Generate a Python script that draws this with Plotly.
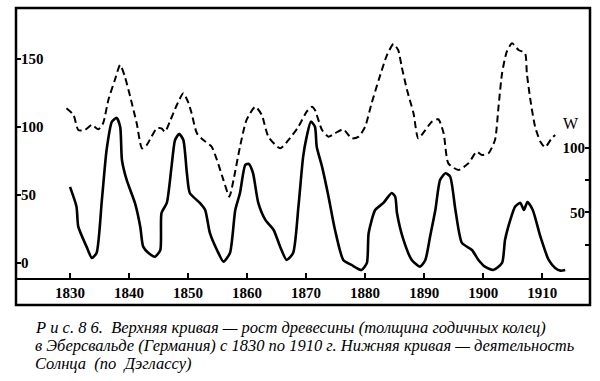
import plotly.graph_objects as go

# Upper curve: tree growth (ring thickness), left axis
growth_years = [1829.4, 1830.6, 1831.4, 1832.5, 1833.7, 1834.8, 1835.6, 1836.5, 1837.6, 1838.5,
                1839.3, 1840.2, 1841.3, 1842.2, 1843.0, 1843.8, 1844.7, 1845.5, 1846.1, 1846.9,
                1848.1, 1849.2, 1850.1, 1850.6, 1851.5, 1852.6, 1854.0, 1854.9, 1856.0, 1857.0,
                1857.7, 1858.8, 1859.9, 1861.4, 1862.5, 1863.6, 1865.6, 1867.0, 1868.7, 1870.1,
                1871.0, 1871.5, 1872.7, 1873.8, 1874.9, 1876.3, 1877.7, 1878.9, 1880.0, 1881.1,
                1882.3, 1883.7, 1884.8, 1885.6, 1886.2, 1887.1, 1888.2, 1889.0, 1890.2, 1891.3,
                1892.4, 1893.3, 1894.1, 1895.8, 1897.5, 1898.9, 1899.8, 1900.9, 1902.0, 1902.6,
                1903.2, 1904.0, 1904.9, 1906.0, 1907.1, 1907.4, 1908.0, 1908.8, 1909.7, 1910.5,
                1911.6, 1912.2]
growth_values = [113.8, 108.8, 97.8, 97.8, 101.5, 98.3, 102.7, 119.9, 134.6, 145.6,
                 137.0, 122.3, 102.7, 84.3, 86.8, 92.9, 99.0, 99.0, 96.5, 103.9,
                 116.2, 124.8, 117.4, 110.1, 95.4, 90.4, 85.5, 75.7, 61.0, 48.8,
                 61.0, 85.5, 105.1, 114.9, 108.8, 92.9, 84.3, 90.4, 100.2, 111.3,
                 114.9, 112.5, 97.8, 92.9, 95.4, 98.3, 91.7, 92.9, 100.2, 117.4,
                 134.6, 152.9, 161.0, 156.6, 144.3, 127.2, 110.1, 91.7, 97.8, 103.9,
                 105.7, 95.4, 73.3, 68.4, 73.3, 81.8, 79.4, 80.7, 90.4, 114.9,
                 139.5, 155.4, 161.5, 156.6, 154.2, 139.5, 119.9, 100.2, 89.2, 85.1,
                 91.7, 94.1]

# Lower curve: solar activity W (Wolf number), right axis
sun_years = [1830.0, 1831.1, 1831.4, 1832.8, 1833.7, 1834.5, 1835.4, 1836.2, 1837.1, 1837.9,
             1838.5, 1838.8, 1839.6, 1841.0, 1841.9, 1842.4, 1843.3, 1844.4, 1845.3, 1845.5,
             1846.4, 1847.2, 1847.8, 1848.5, 1849.2, 1849.8, 1850.3, 1852.0, 1852.9, 1853.7,
             1854.9, 1856.0, 1857.1, 1858.0, 1858.8, 1859.7, 1860.3, 1861.0, 1861.9, 1863.1,
             1864.5, 1865.6, 1866.7, 1867.8, 1868.7, 1869.5, 1870.1, 1870.8, 1871.5, 1871.8,
             1872.7, 1873.8, 1874.9, 1876.3, 1877.7, 1879.4, 1880.3, 1880.6, 1881.7, 1883.1,
             1884.5, 1885.1, 1885.4, 1886.5, 1887.9, 1889.3, 1890.2, 1891.0, 1891.9, 1892.7,
             1893.6, 1894.4, 1895.3, 1896.4, 1898.1, 1899.2, 1900.3, 1901.7, 1903.2, 1903.7,
             1904.6, 1905.4, 1906.3, 1906.9, 1907.5, 1908.4, 1909.7, 1911.1, 1912.2, 1913.1,
             1913.9]
sun_values = [69.8, 54.5, 39.0, 23.5, 14.7, 18.6, 59.7, 98.4, 120.4, 123.3,
              116.5, 90.7, 75.2, 57.4, 39.0, 23.5, 18.6, 15.7, 20.9, 49.6,
              57.4, 85.5, 106.2, 110.9, 106.2, 80.6, 65.1, 57.4, 51.9, 34.1,
              20.9, 11.9, 18.6, 51.9, 65.1, 86.8, 87.6, 80.6, 57.4, 44.2,
              36.4, 23.5, 13.2, 18.6, 54.5, 93.3, 108.8, 120.4, 116.5, 101.0,
              85.5, 62.2, 36.4, 13.2, 9.3, 5.4, 10.9, 34.1, 51.9, 57.4,
              65.1, 62.2, 49.6, 28.7, 13.2, 8.0, 13.2, 31.2, 51.9, 75.2,
              80.4, 77.8, 51.9, 26.4, 20.9, 13.2, 8.0, 5.4, 10.9, 28.7,
              44.2, 54.5, 57.4, 51.9, 58.1, 51.9, 31.2, 13.2, 7.0, 4.9,
              5.4]

x_ticks = [1830, 1840, 1850, 1860, 1870, 1880, 1890, 1900, 1910]
left_ticks = [0, 50, 100, 150]
right_ticks = [25, 50, 75, 100]
right_labels = ["", "50", "", "100"]

caption_lines = [
    "Р и с. 8 6.  Верхняя кривая — рост древесины (толщина годичных колец)",
    "в Эберсвальде (Германия) с 1830 по 1910 г. Нижняя кривая — деятельность",
    "Солнца  (по  Дэглассу)",
]

SERIF = "Liberation Serif"

fig = go.Figure()
fig.add_trace(go.Scatter(x=growth_years, y=growth_values, mode="lines",
                         line=dict(color="black", width=2, dash="7px,4px", shape="spline", smoothing=0.6),
                         yaxis="y", showlegend=False, hoverinfo="skip"))
fig.add_trace(go.Scatter(x=sun_years, y=sun_values, mode="lines",
                         line=dict(color="black", width=2.6, shape="spline", smoothing=0.6),
                         yaxis="y2", showlegend=False, hoverinfo="skip"))

W, H = 600, 381
L, R, T, B = 16, 10, 8, 103
plot_w = W - L - R
plot_h = H - T - B

def px_x(px):
    return (px - L) / plot_w

def px_y(py):
    return (H - B - py) / plot_h

tickfont = dict(family=SERIF, size=15, color="black")

fig.update_layout(
    template="none",
    width=W, height=H, autosize=False,
    margin=dict(l=L, r=R, t=T, b=B, pad=0),
    paper_bgcolor="white", plot_bgcolor="white",
    font=dict(family=SERIF, color="black"),
    xaxis=dict(range=[1820.85, 1918.1], tickvals=x_ticks,
               ticktext=["<b>%d</b>" % v for v in x_ticks],
               ticks="inside", ticklen=5,
               tickwidth=1.5, tickcolor="black", showline=True, linecolor="black", linewidth=2,
               showgrid=False, zeroline=False, tickfont=tickfont),
    yaxis=dict(range=[-11, 187.5], tickvals=left_ticks,
               ticktext=["<b>%d</b>" % v for v in left_ticks],
               ticks="inside", ticklen=5,
               tickwidth=1.5, tickcolor="black", ticklabelposition="inside",
               showline=False, showgrid=False, zeroline=False, tickfont=tickfont),
    yaxis2=dict(range=[-0.8, 208.5], overlaying="y", side="right", tickvals=right_ticks,
                ticktext=["<b>%s</b>" % t if t else "" for t in right_labels],
                ticks="inside", ticklen=5, tickwidth=1.5, tickcolor="black",
                ticklabelposition="inside", showline=False, showgrid=False, zeroline=False,
                tickfont=tickfont),
)

fig.add_shape(type="rect", xref="paper", yref="paper", x0=0, x1=1, y0=px_y(305), y1=1,
              line=dict(color="black", width=2.5))

fig.add_annotation(text="W", xref="paper", yref="paper", x=px_x(571), y=px_y(124),
                   xanchor="center", yanchor="middle", showarrow=False,
                   font=dict(family=SERIF, size=16, color="black"))

for i, line in enumerate(caption_lines):
    fig.add_annotation(text="<i>%s</i>" % line, xref="paper", yref="paper",
                       x=px_x(33), y=px_y(327 + 18 * i),
                       xanchor="left", yanchor="middle", showarrow=False,
                       font=dict(family=SERIF, size=16.5, color="black"))

fig.write_html("out.html", config={"displayModeBar": False},
               post_script="document.body.style.margin='0px';")
